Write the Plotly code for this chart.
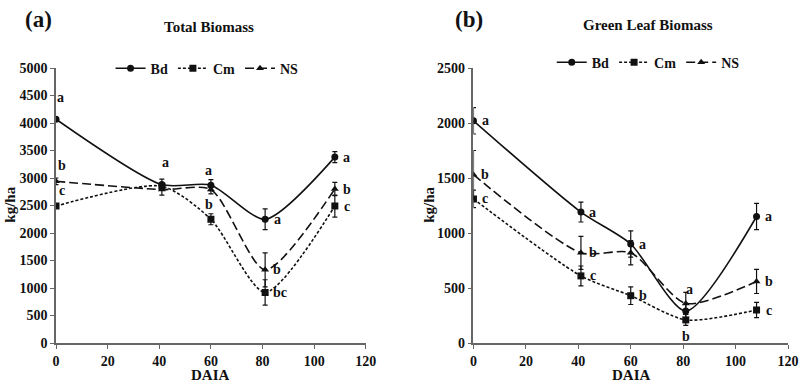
import plotly.graph_objects as go

# days after ... (DAIA)
days = [0, 41, 60, 81, 108]

# (a) Total Biomass, kg/ha
tot_bd = [4070, 2880, 2870, 2250, 3380]
tot_bd_err = [0, 100, 100, 190, 100]
tot_cm = [2490, 2850, 2250, 920, 2490]
tot_cm_err = [0, 60, 100, 230, 200]
tot_ns = [2940, 2790, 2790, 1330, 2800]
tot_ns_err = [60, 100, 80, 310, 120]
tot_bd_sig = ["a", "a", "a", "a", "a"]
tot_cm_sig = ["c", "", "b", "bc", "c"]
tot_ns_sig = ["b", "", "", "b", "b"]

# (b) Green Leaf Biomass, kg/ha
gl_bd = [2020, 1190, 900, 290, 1150]
gl_bd_err = [120, 90, 120, 60, 120]
gl_cm = [1310, 610, 430, 210, 300]
gl_cm_err = [80, 90, 80, 50, 70]
gl_ns = [1530, 820, 820, 360, 560]
gl_ns_err = [220, 150, 110, 100, 110]
gl_bd_sig = ["a", "a", "a", "a", "a"]
gl_cm_sig = ["c", "c", "b", "b", "c"]
gl_ns_sig = ["b", "b", "", "", "b"]

FONT = "Liberation Serif"
INK = "#111111"
AXC = "#666666"

# plot area in pixels
L, R, T, B = 56, 787.7, 68.3, 343.3
W, H = 805, 387

styles = {
    "Bd": dict(dash="solid", symbol="circle"),
    "Cm": dict(dash="3px,2px", symbol="square"),
    "NS": dict(dash="9px,4px", symbol="triangle-up"),
}

fig = go.Figure()


def add_series(name, y, err, xa, ya, legend):
    st = styles[name]
    fig.add_trace(go.Scatter(
        x=days, y=y, name=name, mode="lines+markers",
        xaxis=xa, yaxis=ya, legend=legend,
        line=dict(color=INK, width=1.6, dash=st["dash"], shape="spline", smoothing=0.7),
        marker=dict(symbol=st["symbol"], size=7, color=INK),
        error_y=dict(type="data", array=err, visible=True, color=INK, thickness=1.2, width=2.5),
    ))


add_series("Bd", tot_bd, tot_bd_err, "x", "y", "legend")
add_series("Cm", tot_cm, tot_cm_err, "x", "y", "legend")
add_series("NS", tot_ns, tot_ns_err, "x", "y", "legend")
add_series("Bd", gl_bd, gl_bd_err, "x2", "y2", "legend2")
add_series("Cm", gl_cm, gl_cm_err, "x2", "y2", "legend2")
add_series("NS", gl_ns, gl_ns_err, "x2", "y2", "legend2")

# letter placement: r = right of point, u = above, d = below (x, y shift in px)
shift = {"r": (9, 0), "u": (4, 22), "d": (0, -17), "ul": (-2, 15), "ur": (6, 16)}
tot_bd_pos = ["u", "u", "ul", "r", "r"]
tot_cm_pos = ["ur", "", "ul", "r", "r"]
tot_ns_pos = ["ur", "", "", "r", "r"]
gl_bd_pos = ["r", "r", "r", "u", "r"]
gl_cm_pos = ["r", "r", "r", "d", "r"]
gl_ns_pos = ["r", "r", "", "", "r"]

annos = []


def letters(y, sig, pos, xr, yr):
    for xv, yv, s, p in zip(days, y, sig, pos):
        if not s:
            continue
        dx, dy = shift[p]
        if p == "r":
            dx += 3 * len(s)
        annos.append(dict(x=xv, y=yv, xref=xr, yref=yr, text=s, showarrow=False,
                          xshift=dx, yshift=dy,
                          font=dict(family=FONT, size=14, color=INK, weight="bold")))


letters(tot_bd, tot_bd_sig, tot_bd_pos, "x", "y")
letters(tot_cm, tot_cm_sig, tot_cm_pos, "x", "y")
letters(tot_ns, tot_ns_sig, tot_ns_pos, "x", "y")
letters(gl_bd, gl_bd_sig, gl_bd_pos, "x2", "y2")
letters(gl_cm, gl_cm_sig, gl_cm_pos, "x2", "y2")
letters(gl_ns, gl_ns_sig, gl_ns_pos, "x2", "y2")


def px(x):
    return (x - L) / (R - L)


def py(y):
    return (B - y) / (B - T)


def txt(x, y, s, size, angle=0):
    annos.append(dict(x=px(x), y=py(y), xref="paper", yref="paper", text=s, showarrow=False,
                      textangle=angle, xanchor="center", yanchor="middle",
                      font=dict(family=FONT, size=size, color=INK, weight="bold")))


txt(39, 20, "(a)", 23)
txt(469, 20, "(b)", 23)
txt(209, 27, "Total Biomass", 15)
txt(648, 25, "Green Leaf Biomass", 15)
txt(210, 375, "DAIA", 15)
txt(631, 375, "DAIA", 15)
txt(10, 205, "kg/ha", 15, -90)
txt(429, 205, "kg/ha", 15, -90)

tickf = dict(family=FONT, size=14, color=INK, weight="bold")
ax = dict(showgrid=False, zeroline=False, showline=True, linecolor=AXC, linewidth=1.5,
          ticks="outside", ticklen=4, tickcolor=AXC, tickfont=tickf, automargin=False)

legf = dict(family=FONT, size=14, color=INK, weight="bold")
fig.update_layout(
    width=W, height=H,
    margin=dict(l=L, r=W - R, t=T, b=H - B, autoexpand=False),
    paper_bgcolor="white", plot_bgcolor="white",
    showlegend=True,
    xaxis=dict(ax, domain=[0, px(365.7)], range=[0, 120], dtick=20, anchor="y"),
    yaxis=dict(ax, domain=[0, 1], range=[0, 5000], dtick=500, anchor="x"),
    xaxis2=dict(ax, domain=[px(473.3), 1], range=[0, 120], dtick=20, anchor="y2"),
    yaxis2=dict(ax, domain=[0, 1], range=[0, 2500], dtick=500, anchor="x2"),
    legend=dict(orientation="h", x=px(207), y=py(69), xanchor="center", yanchor="middle",
                font=legf, itemwidth=30, bgcolor="rgba(0,0,0,0)", tracegroupgap=0),
    legend2=dict(orientation="h", x=px(648), y=py(63), xanchor="center", yanchor="middle",
                 font=legf, itemwidth=30, bgcolor="rgba(0,0,0,0)", tracegroupgap=0),
    annotations=annos,
)

# page body has a default 8px margin; drop it so the figure sits at the corner
fig.write_html("out.html", config={"displayModeBar": False},
               post_script="document.body.style.margin='0';")
